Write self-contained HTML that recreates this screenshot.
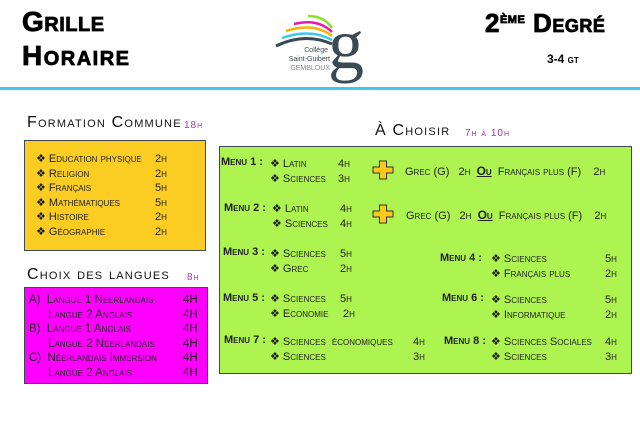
<!DOCTYPE html>
<html><head><meta charset="utf-8"><style>
body{margin:0;width:640px;height:434px;background:#fff;position:relative;overflow:hidden;font-family:"Liberation Sans",sans-serif;}
.a{position:absolute;white-space:nowrap;}
.sc{font-variant:small-caps;font-size:11px;color:#222;}
.t{font-variant:small-caps;font-size:16px;letter-spacing:1.2px;color:#111;font-family:"Liberation Sans",sans-serif;}
.h{font-size:10px;color:#a236a8;font-variant:small-caps;font-family:"Liberation Sans",sans-serif;letter-spacing:1px}
.big{font-weight:900;font-variant:small-caps;font-size:28px;color:#000;letter-spacing:0.5px;-webkit-text-stroke:0.8px #000;}
.m{font-weight:bold;}
.box{position:absolute;border:1px solid #3b4a55;box-sizing:border-box;}
.plus{position:absolute;width:22px;height:20px;}
</style></head><body>
<div class="a big" style="left:22px;top:6px;">Grille</div>
<div class="a big" style="left:22px;top:40px;letter-spacing:1.5px">Horaire</div>
<div class="a big" style="left:485px;top:8px;font-size:26px;">2<sup style="font-size:15px;vertical-align:9px">ème</sup> Degré</div>
<div class="a" style="left:547px;top:52px;font-weight:900;font-size:12px;font-variant:small-caps;">3-4 gt</div>

<svg class="a" style="left:270px;top:8px" width="110" height="80">
<path d="M6 38 Q35 24 62 36" stroke="#3a4a55" stroke-width="3" fill="none"/>
<path d="M12 30 Q40 20 62 32" stroke="#3cc7f0" stroke-width="2.5" fill="none"/>
<path d="M16 23 Q44 14 62 28" stroke="#f6b300" stroke-width="2.5" fill="none"/>
<path d="M24 16 Q48 10 62 24" stroke="#e81aa8" stroke-width="2.5" fill="none"/>
<path d="M38 8 Q54 8 62 20" stroke="#8be02a" stroke-width="2.5" fill="none"/>
<text x="58" y="60" font-family="Liberation Serif" font-size="72" fill="#3a4a55">g</text>
<text x="58" y="44" font-size="7" fill="#3a4a55" text-anchor="end" font-family="Liberation Sans">Collège</text>
<text x="60" y="53" font-size="7" fill="#3a4a55" text-anchor="end" font-family="Liberation Sans">Saint-Guibert</text>
<text x="60" y="62" font-size="7" fill="#888" text-anchor="end" font-family="Liberation Sans">GEMBLOUX</text>
</svg>
<div class="a" style="left:0;top:87px;width:640px;height:3px;background:#42c8ee"></div>

<div class="a t" style="left:27px;top:114px;">Formation Commune</div>
<div class="a h" style="left:184px;top:120px;">18h</div>
<div class="box" style="left:24px;top:140px;width:182px;height:111px;background:#fbcd23"></div>
<div class="a sc" style="left:36px;top:152px;line-height:14.5px;">❖ Education physique<br>❖ Religion<br>❖ Français<br>❖ Mathématiques<br>❖ Histoire<br>❖ Géographie</div>
<div class="a sc" style="left:155px;top:152px;line-height:14.5px;">2h<br>2h<br>5h<br>5h<br>2h<br>2h</div>

<div class="a t" style="left:27px;top:266px;">Choix des langues</div>
<div class="a h" style="left:187px;top:272px;">8h</div>
<div class="box" style="left:24px;top:287px;width:184px;height:97px;background:#fe00fe"></div>
<div class="a sc" style="left:29px;top:293px;line-height:14.6px;font-size:11.5px">A) &nbsp;Langue 1 Néerlandais<br>&nbsp;&nbsp;&nbsp;&nbsp;&nbsp; Langue 2 Anglais<br>B) &nbsp;Langue 1 Anglais<br>&nbsp;&nbsp;&nbsp;&nbsp;&nbsp; Langue 2 Néerlandais<br>C) &nbsp;Néerlandais Immersion<br>&nbsp;&nbsp;&nbsp;&nbsp;&nbsp; Langue 2 Anglais</div>
<div class="a sc" style="left:183px;top:293px;line-height:14.6px;font-size:11.5px">4H<br>4H<br>4H<br>4H<br>4H<br>4H</div>

<div class="a t" style="left:375px;top:122px;">À Choisir</div>
<div class="a h" style="left:465px;top:128px;">7h à 10h</div>
<div class="box" style="left:219px;top:146px;width:413px;height:228px;background:#aef451"></div>

<div class="a sc m" style="left:221px;top:156px;">Menu 1 :</div>
<div class="a sc" style="left:270px;top:157px;line-height:15px;">❖ Latin<br>❖ Sciences</div>
<div class="a sc" style="left:338px;top:157px;line-height:15px;">4h<br>3h</div>
<svg class="plus" style="left:372px;top:160px" viewBox="0 0 22 20"><path d="M7.5 1h7v6h6.5v6h-6.5v6h-7v-6h-6.5v-6h6.5z" fill="#fbc91e" stroke="#333" stroke-width="1"/></svg>
<div class="a sc" style="left:405px;top:164px;">Grec (G) &nbsp;&nbsp;2h &nbsp;<b style="text-decoration:underline;font-size:12px">Ou</b> &nbsp;Français plus (F) &nbsp;&nbsp;&nbsp;2h</div>

<div class="a sc m" style="left:224px;top:202px;">Menu 2 :</div>
<div class="a sc" style="left:272px;top:202px;line-height:15px;">❖ Latin<br>❖ Sciences</div>
<div class="a sc" style="left:340px;top:202px;line-height:15px;">4h<br>4h</div>
<svg class="plus" style="left:372px;top:204px" viewBox="0 0 22 20"><path d="M7.5 1h7v6h6.5v6h-6.5v6h-7v-6h-6.5v-6h6.5z" fill="#fbc91e" stroke="#333" stroke-width="1"/></svg>
<div class="a sc" style="left:406px;top:208px;">Grec (G) &nbsp;&nbsp;2h &nbsp;<b style="text-decoration:underline;font-size:12px">Ou</b> &nbsp;Français plus (F) &nbsp;&nbsp;&nbsp;2h</div>

<div class="a sc m" style="left:223px;top:246px;">Menu 3 :</div>
<div class="a sc" style="left:270px;top:247px;line-height:15px;">❖ Sciences<br>❖ Grec</div>
<div class="a sc" style="left:340px;top:247px;line-height:15px;">5h<br>2h</div>
<div class="a sc m" style="left:440px;top:252px;">Menu 4 :</div>
<div class="a sc" style="left:491px;top:252px;line-height:15px;">❖ Sciences<br>❖ Français plus</div>
<div class="a sc" style="left:605px;top:252px;line-height:15px;">5h<br>2h</div>

<div class="a sc m" style="left:223px;top:292px;">Menu 5 :</div>
<div class="a sc" style="left:270px;top:292px;line-height:15px;">❖ Sciences<br>❖ Economie</div>
<div class="a sc" style="left:340px;top:292px;line-height:15px;">5h<br>&nbsp;2h</div>
<div class="a sc m" style="left:442px;top:292px;">Menu 6 :</div>
<div class="a sc" style="left:491px;top:293px;line-height:15px;">❖ Sciences<br>❖ Informatique</div>
<div class="a sc" style="left:605px;top:293px;line-height:15px;">5h<br>2h</div>

<div class="a sc m" style="left:224px;top:334px;">Menu 7 :</div>
<div class="a sc" style="left:270px;top:335px;line-height:15px;">❖ Sciences &nbsp;économiques<br>❖ Sciences</div>
<div class="a sc" style="left:413px;top:335px;line-height:15px;">4h<br>3h</div>
<div class="a sc m" style="left:444px;top:335px;">Menu 8 :</div>
<div class="a sc" style="left:491px;top:335px;line-height:15px;">❖ Sciences Sociales<br>❖ Sciences</div>
<div class="a sc" style="left:605px;top:335px;line-height:15px;">4h<br>3h</div>
</body></html>
